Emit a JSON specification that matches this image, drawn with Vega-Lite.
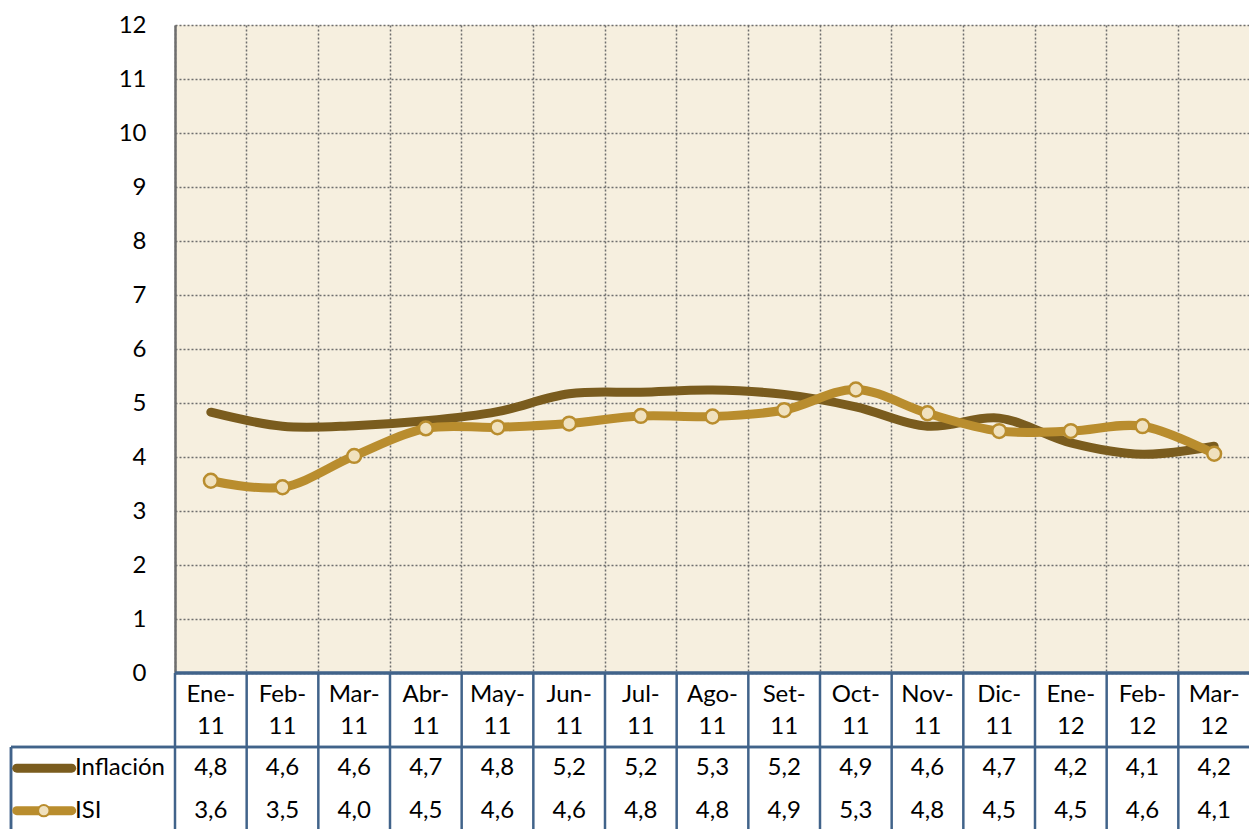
{
  "$schema": "https://vega.github.io/schema/vega-lite/v6.json",
  "padding": {"left": 9, "top": 13, "right": 0, "bottom": 0},
  "config": {"view": {"stroke": null}, "font": "Lato", "text": {"font": "Lato"}},
  "columns": 2,
  "spacing": 0,
  "bounds": "flush",
  "resolve": {"scale": {"x": "independent", "y": "independent", "color": "shared"}},
  "datasets": {
    "cats": [
      {"cat": "Ene-11", "top": "Ene-", "bot": "11"},
      {"cat": "Feb-11", "top": "Feb-", "bot": "11"},
      {"cat": "Mar-11", "top": "Mar-", "bot": "11"},
      {"cat": "Abr-11", "top": "Abr-", "bot": "11"},
      {"cat": "May-11", "top": "May-", "bot": "11"},
      {"cat": "Jun-11", "top": "Jun-", "bot": "11"},
      {"cat": "Jul-11", "top": "Jul-", "bot": "11"},
      {"cat": "Ago-11", "top": "Ago-", "bot": "11"},
      {"cat": "Set-11", "top": "Set-", "bot": "11"},
      {"cat": "Oct-11", "top": "Oct-", "bot": "11"},
      {"cat": "Nov-11", "top": "Nov-", "bot": "11"},
      {"cat": "Dic-11", "top": "Dic-", "bot": "11"},
      {"cat": "Ene-12", "top": "Ene-", "bot": "12"},
      {"cat": "Feb-12", "top": "Feb-", "bot": "12"},
      {"cat": "Mar-12", "top": "Mar-", "bot": "12"}
    ],
    "names": [{"serie": "Inflación"}, {"serie": "ISI"}],
    "series": [
      {"cat": "Ene-11", "serie": "Inflación", "v": 4.83, "label": "4,8"},
      {"cat": "Feb-11", "serie": "Inflación", "v": 4.57, "label": "4,6"},
      {"cat": "Mar-11", "serie": "Inflación", "v": 4.58, "label": "4,6"},
      {"cat": "Abr-11", "serie": "Inflación", "v": 4.67, "label": "4,7"},
      {"cat": "May-11", "serie": "Inflación", "v": 4.84, "label": "4,8"},
      {"cat": "Jun-11", "serie": "Inflación", "v": 5.17, "label": "5,2"},
      {"cat": "Jul-11", "serie": "Inflación", "v": 5.2, "label": "5,2"},
      {"cat": "Ago-11", "serie": "Inflación", "v": 5.24, "label": "5,3"},
      {"cat": "Set-11", "serie": "Inflación", "v": 5.16, "label": "5,2"},
      {"cat": "Oct-11", "serie": "Inflación", "v": 4.93, "label": "4,9"},
      {"cat": "Nov-11", "serie": "Inflación", "v": 4.57, "label": "4,6"},
      {"cat": "Dic-11", "serie": "Inflación", "v": 4.72, "label": "4,7"},
      {"cat": "Ene-12", "serie": "Inflación", "v": 4.26, "label": "4,2"},
      {"cat": "Feb-12", "serie": "Inflación", "v": 4.05, "label": "4,1"},
      {"cat": "Mar-12", "serie": "Inflación", "v": 4.2, "label": "4,2"},
      {"cat": "Ene-11", "serie": "ISI", "v": 3.56, "label": "3,6"},
      {"cat": "Feb-11", "serie": "ISI", "v": 3.44, "label": "3,5"},
      {"cat": "Mar-11", "serie": "ISI", "v": 4.02, "label": "4,0"},
      {"cat": "Abr-11", "serie": "ISI", "v": 4.53, "label": "4,5"},
      {"cat": "May-11", "serie": "ISI", "v": 4.55, "label": "4,6"},
      {"cat": "Jun-11", "serie": "ISI", "v": 4.62, "label": "4,6"},
      {"cat": "Jul-11", "serie": "ISI", "v": 4.76, "label": "4,8"},
      {"cat": "Ago-11", "serie": "ISI", "v": 4.75, "label": "4,8"},
      {"cat": "Set-11", "serie": "ISI", "v": 4.87, "label": "4,9"},
      {"cat": "Oct-11", "serie": "ISI", "v": 5.25, "label": "5,3"},
      {"cat": "Nov-11", "serie": "ISI", "v": 4.81, "label": "4,8"},
      {"cat": "Dic-11", "serie": "ISI", "v": 4.48, "label": "4,5"},
      {"cat": "Ene-12", "serie": "ISI", "v": 4.48, "label": "4,5"},
      {"cat": "Feb-12", "serie": "ISI", "v": 4.57, "label": "4,6"},
      {"cat": "Mar-12", "serie": "ISI", "v": 4.06, "label": "4,1"}
    ]
  },
  "concat": [
    {
      "width": 164,
      "height": 648,
      "data": {"values": []},
      "mark": "point",
      "encoding": {}
    },
    {
      "width": 1075,
      "height": 648,
      "view": {"fill": "#F6EFDF", "stroke": null},
      "data": {"name": "series"},
      "encoding": {
        "x": {
          "field": "cat",
          "type": "ordinal",
          "bandPosition": 0.5,
          "scale": {"type": "band", "paddingInner": 0, "paddingOuter": 0,
            "domain": ["Ene-11","Feb-11","Mar-11","Abr-11","May-11","Jun-11","Jul-11","Ago-11","Set-11","Oct-11","Nov-11","Dic-11","Ene-12","Feb-12","Mar-12"]},
          "axis": {"orient": "bottom", "grid": true, "bandPosition": 0, "labels": false, "ticks": false, "domain": false, "title": null,
            "gridColor": "#6E6E6E", "gridDash": [2, 2], "gridWidth": 1.5}
        },
        "y": {
          "field": "v",
          "type": "quantitative",
          "scale": {"domain": [0, 12], "nice": false},
          "axis": {"values": [0,1,2,3,4,5,6,7,8,9,10,11,12], "grid": true, "gridColor": "#6E6E6E", "gridDash": [2, 2], "gridWidth": 1.5,
            "ticks": false, "domain": true, "domainColor": "#6E6E6E", "domainWidth": 2.5,
            "labelFont": "Lato", "labelFontSize": 24, "labelColor": "#000000", "labelPadding": 29, "title": null}
        }
      },
      "layer": [
        {
          "mark": {"type": "line", "strokeWidth": 9, "interpolate": "catmull-rom", "strokeCap": "round", "strokeJoin": "round"},
          "encoding": {
            "color": {"field": "serie", "type": "nominal", "scale": {"domain": ["Inflación", "ISI"], "range": ["#7A5C1E", "#B98D2E"]}, "legend": null}
          }
        },
        {
          "transform": [{"filter": "datum.serie === 'ISI'"}],
          "mark": {"type": "point", "filled": true, "fill": "#F0E1BE", "stroke": "#B98D2E", "strokeWidth": 2.5, "size": 190, "opacity": 1}
        }
      ]
    },
    {
      "width": 164,
      "height": 156,
      "data": {"name": "names"},
      "layer": [
        {
          "mark": {"type": "rule", "color": "#41638A", "strokeWidth": 2.5},
          "encoding": {"y": {"datum": 1.9, "scale": {"domain": [0, 4], "reverse": true}, "axis": null}}
        },
        {
          "mark": {"type": "rule", "color": "#41638A", "strokeWidth": 2.5},
          "encoding": {
            "x": {"datum": 0, "scale": {"domain": [0, 1]}, "axis": null},
            "y": {"datum": 1.9},
            "y2": {"datum": 4}
          }
        },
        {
          "transform": [{"filter": "datum.serie === 'Inflación'"}],
          "mark": {"type": "rule", "strokeWidth": 9, "strokeCap": "round"},
          "encoding": {
            "x": {"datum": 0.035},
            "x2": {"datum": 0.37},
            "y": {"datum": 2.44},
            "color": {"field": "serie", "type": "nominal", "legend": null}
          }
        },
        {
          "transform": [{"filter": "datum.serie === 'ISI'"}],
          "mark": {"type": "rule", "strokeWidth": 9, "strokeCap": "round"},
          "encoding": {
            "x": {"datum": 0.035},
            "x2": {"datum": 0.37},
            "y": {"datum": 3.53},
            "color": {"field": "serie", "type": "nominal", "legend": null}
          }
        },
        {
          "transform": [{"filter": "datum.serie === 'ISI'"}],
          "mark": {"type": "point", "filled": true, "fill": "#F0E1BE", "stroke": "#B98D2E", "strokeWidth": 2, "size": 130, "opacity": 1},
          "encoding": {
            "x": {"datum": 0.2},
            "y": {"datum": 3.53}
          }
        },
        {
          "transform": [{"filter": "datum.serie === 'Inflación'"}],
          "mark": {"type": "text", "align": "left", "baseline": "middle", "fontSize": 24, "color": "#000000"},
          "encoding": {"x": {"datum": 0.39}, "y": {"datum": 2.44}, "text": {"field": "serie"}}
        },
        {
          "transform": [{"filter": "datum.serie === 'ISI'"}],
          "mark": {"type": "text", "align": "left", "baseline": "middle", "fontSize": 24, "color": "#000000"},
          "encoding": {"x": {"datum": 0.39}, "y": {"datum": 3.53}, "text": {"field": "serie"}}
        }
      ]
    },
    {
      "width": 1075,
      "height": 156,
      "layer": [
        {
          "data": {"name": "cats"},
          "mark": {"type": "rule", "color": "#41638A", "strokeWidth": 2.5},
          "encoding": {
            "x": {"field": "cat", "type": "ordinal", "bandPosition": 0,
              "scale": {"type": "band", "paddingInner": 0, "paddingOuter": 0,
                "domain": ["Ene-11","Feb-11","Mar-11","Abr-11","May-11","Jun-11","Jul-11","Ago-11","Set-11","Oct-11","Nov-11","Dic-11","Ene-12","Feb-12","Mar-12"]},
              "axis": null},
            "y": {"datum": 0, "scale": {"domain": [0, 4], "reverse": true}, "axis": null},
            "y2": {"datum": 4}
          }
        },
        {
          "data": {"name": "names"},
          "mark": {"type": "rule", "color": "#41638A", "strokeWidth": 3},
          "encoding": {"y": {"datum": 0}}
        },
        {
          "data": {"name": "names"},
          "mark": {"type": "rule", "color": "#41638A", "strokeWidth": 2.5},
          "encoding": {"y": {"datum": 1.9}}
        },
        {
          "data": {"name": "cats"},
          "mark": {"type": "text", "baseline": "middle", "fontSize": 24, "color": "#000000"},
          "encoding": {"x": {"field": "cat", "type": "ordinal", "bandPosition": 0.5}, "y": {"datum": 0.56}, "text": {"field": "top"}}
        },
        {
          "data": {"name": "cats"},
          "mark": {"type": "text", "baseline": "middle", "fontSize": 24, "color": "#000000"},
          "encoding": {"x": {"field": "cat", "type": "ordinal", "bandPosition": 0.5}, "y": {"datum": 1.385}, "text": {"field": "bot"}}
        },
        {
          "data": {"name": "series"},
          "transform": [{"filter": "datum.serie === 'Inflación'"}],
          "mark": {"type": "text", "baseline": "middle", "fontSize": 24, "color": "#000000"},
          "encoding": {"x": {"field": "cat", "type": "ordinal", "bandPosition": 0.5}, "y": {"datum": 2.44}, "text": {"field": "label"}}
        },
        {
          "data": {"name": "series"},
          "transform": [{"filter": "datum.serie === 'ISI'"}],
          "mark": {"type": "text", "baseline": "middle", "fontSize": 24, "color": "#000000"},
          "encoding": {"x": {"field": "cat", "type": "ordinal", "bandPosition": 0.5}, "y": {"datum": 3.53}, "text": {"field": "label"}}
        }
      ]
    }
  ]
}
